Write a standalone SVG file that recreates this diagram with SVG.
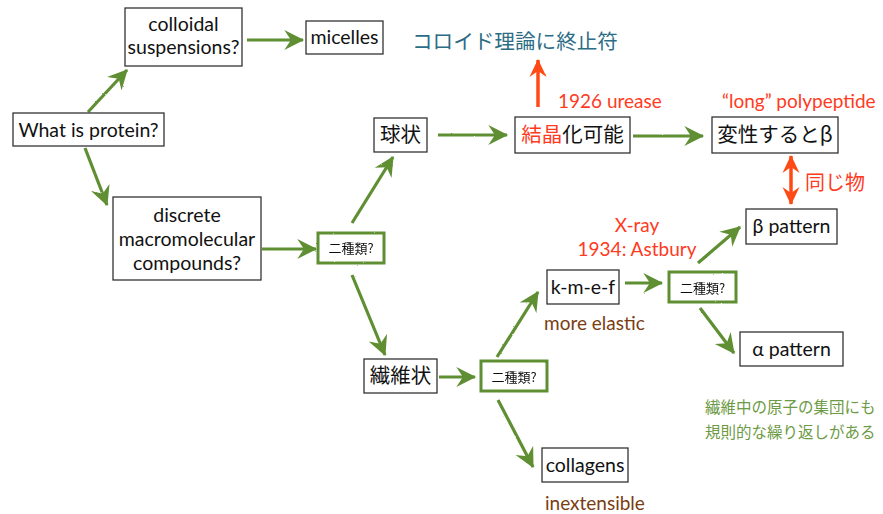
<svg xmlns="http://www.w3.org/2000/svg" width="883" height="514" viewBox="0 0 883 514">
<style>
.box{fill:#fff;stroke:#333;stroke-width:1.3}
.gbox{fill:#fff;stroke:#5e8f33;stroke-width:3}
.t{font-family:Lato,"Noto Sans CJK JP",sans-serif;font-size:19.5px;fill:#111;text-anchor:middle}
.j{font-family:"Noto Sans CJK JP",sans-serif;font-size:20.5px;fill:#111;text-anchor:middle}
.s{font-family:"Noto Sans CJK JP",sans-serif;font-size:13px;fill:#111;text-anchor:middle}
.g{fill:none;stroke:#5e8f33;stroke-width:3.2;marker-end:url(#ga)}
.o{fill:none;stroke:#ff4a12;stroke-width:3.5}
.red{fill:#ff3a1e;font-family:Lato,sans-serif;font-size:19px}
.brown{font-family:Lato,sans-serif;font-size:19px;fill:#7a3d12}
.gt{font-family:"Noto Sans CJK JP",sans-serif;font-size:15.5px;fill:#6d9a45}
</style>
<defs>
<filter id="rough" x="-10%" y="-10%" width="120%" height="120%">
<feTurbulence type="fractalNoise" baseFrequency="0.9" numOctaves="2" seed="3"/>
<feDisplacementMap in="SourceGraphic" scale="1.6" xChannelSelector="R" yChannelSelector="G"/>
</filter>
<marker id="ga" markerUnits="userSpaceOnUse" markerWidth="22" markerHeight="22" viewBox="0 0 20 20" refX="17" refY="10" orient="auto">
<path d="M0,1 L18,10 L0,19 L6,10 Z" fill="#5e8f33"/>
</marker>
<marker id="oa" markerUnits="userSpaceOnUse" markerWidth="20" markerHeight="20" viewBox="0 0 20 20" refX="17" refY="10" orient="auto-start-reverse">
<path d="M0,1.5 L18,10 L0,18.5 L6,10 Z" fill="#ff4a12"/>
</marker>
</defs>

<g id="connectors" filter="url(#rough)">
<path class="g" d="M88,112 L127,70"/>
<path class="g" d="M85,148 L107,205"/>
<path class="g" d="M247,40 L303,40"/>
<path class="g" d="M262,249 L316,249"/>
<path class="g" d="M352,223 L393,157"/>
<path class="g" d="M352,275 L385,355"/>
<path class="g" d="M438,135 L507,135"/>
<path class="g" d="M633,136 L703,136"/>
<path class="g" d="M439,377 L475,377"/>
<path class="g" d="M497,357 L538,292"/>
<path class="g" d="M498,400 L533,467"/>
<path class="g" d="M625,283 L662,283"/>
<path class="g" d="M698,263 L740,227"/>
<path class="g" d="M700,308 L734,353"/>
<path class="o" d="M538,107 L538,60" marker-end="url(#oa)"/>
<path class="o" d="M791,156 L791,204" marker-start="url(#oa)" marker-end="url(#oa)"/>
</g>

<g id="n-protein"><rect class="box" x="13" y="113" width="151" height="33"/><text class="t" x="88.5" y="137">What is protein?</text></g>
<g id="n-colloidal"><rect class="box" x="125" y="8" width="117" height="58"/><text class="t" x="183.5" y="31">colloidal</text><text class="t" x="183.5" y="54">suspensions?</text></g>
<g id="n-micelles"><rect class="box" x="306" y="21" width="77" height="33"/><text class="t" x="344.5" y="44">micelles</text></g>
<g id="n-discrete"><rect class="box" x="113" y="197" width="148" height="83"/><text class="t" x="187" y="222">discrete</text><text class="t" x="187" y="246">macromolecular</text><text class="t" x="187" y="270">compounds?</text></g>
<g id="n-q1" filter="url(#rough)"><rect class="gbox" x="318" y="233" width="66" height="30"/><text class="s" x="351" y="253">二種類?</text></g>
<g id="n-kyu"><rect class="box" x="374" y="118" width="53" height="34"/><text class="j" x="400.5" y="142">球状</text></g>
<g id="n-kessho"><rect class="box" x="515" y="117" width="115" height="36"/><text class="j" x="572.5" y="142"><tspan fill="#ff3a1e">結晶</tspan>化可能</text></g>
<g id="n-hensei"><rect class="box" x="712" y="117" width="126" height="36"/><text class="j" x="775" y="142">変性するとβ</text></g>
<g id="n-seni"><rect class="box" x="364" y="359" width="73" height="34"/><text class="j" x="400.5" y="383">繊維状</text></g>
<g id="n-q2" filter="url(#rough)"><rect class="gbox" x="481" y="361" width="66" height="30"/><text class="s" x="514" y="382">二種類?</text></g>
<g id="n-kmef"><rect class="box" x="547" y="270" width="72" height="34"/><text class="t" x="583" y="294">k-m-e-f</text></g>
<g id="n-q3" filter="url(#rough)"><rect class="gbox" x="669" y="272" width="67" height="30"/><text class="s" x="702.5" y="293">二種類?</text></g>
<g id="n-beta"><rect class="box" x="746" y="209" width="91" height="35"/><text class="t" x="791.5" y="233">β pattern</text></g>
<g id="n-alpha"><rect class="box" x="740" y="332" width="103" height="34"/><text class="t" x="791.5" y="356">α pattern</text></g>
<g id="n-collagens"><rect class="box" x="542" y="448" width="86" height="34"/><text class="t" x="585" y="472">collagens</text></g>

<g id="labels">
<text x="412" y="49" font-family="Noto Sans CJK JP, sans-serif" font-size="20.6" fill="#2c6d85">コロイド理論に終止符</text>
<text class="red" x="558" y="108">1926 urease</text>
<text class="red" x="722" y="108">“long” polypeptide</text>
<text x="805" y="190" font-family="Noto Sans CJK JP, sans-serif" font-size="20" fill="#ff3a1e">同じ物</text>
<text class="red" x="637" y="232" text-anchor="middle">X-ray</text>
<text class="red" x="637" y="256" text-anchor="middle">1934: Astbury</text>
<text class="brown" x="544" y="330">more elastic</text>
<text class="brown" x="545" y="510">inextensible</text>
<text class="gt" x="705" y="413">繊維中の原子の集団にも</text>
<text class="gt" x="705" y="438">規則的な繰り返しがある</text>
</g>
</svg>
